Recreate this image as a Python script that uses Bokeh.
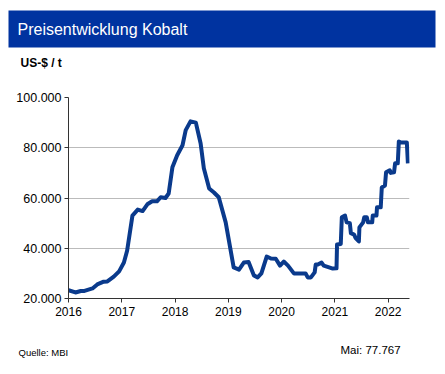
from bokeh.plotting import figure
from bokeh.models import FixedTicker, Range1d
from bokeh.layouts import column, row
from bokeh.core.properties import value
from bokeh.embed import file_html
from bokeh.resources import INLINE

years = [2016.0, 2016.13, 2016.23, 2016.3, 2016.45, 2016.54, 2016.66, 2016.73, 2016.85, 2016.95,
         2017.04, 2017.1, 2017.2, 2017.3, 2017.39, 2017.48, 2017.57, 2017.66, 2017.73, 2017.82,
         2017.88, 2017.95, 2018.04, 2018.14, 2018.2, 2018.29, 2018.39, 2018.48, 2018.54, 2018.64,
         2018.73, 2018.82, 2018.95, 2019.1, 2019.2, 2019.29, 2019.38, 2019.48, 2019.55, 2019.62,
         2019.72, 2019.8, 2019.89, 2019.97, 2020.04, 2020.12, 2020.23, 2020.32, 2020.45, 2020.49,
         2020.55, 2020.62, 2020.64, 2020.68, 2020.75, 2020.79, 2020.89, 2020.96, 2021.03, 2021.04,
         2021.11, 2021.13, 2021.19, 2021.22, 2021.28, 2021.3, 2021.36, 2021.39, 2021.45, 2021.46,
         2021.53, 2021.55, 2021.6, 2021.62, 2021.7, 2021.71, 2021.78, 2021.79, 2021.86, 2021.88,
         2021.94, 2021.96, 2022.03, 2022.05, 2022.11, 2022.13, 2022.18, 2022.2, 2022.24, 2022.35,
         2022.37]
prices = [23300, 22400, 23000, 23000, 24000, 25600, 26700, 26800, 28700, 30800,
          34300, 39000, 53000, 55400, 54800, 57500, 58700, 58700, 60300, 60000,
          61800, 72200, 77000, 81000, 87000, 90500, 90000, 81700, 71800, 63800,
          62200, 60300, 50300, 32400, 31500, 34300, 34500, 29200, 28400, 30000,
          36700, 35900, 35800, 33100, 34700, 33100, 30000, 30000, 30000, 28400,
          28400, 30400, 33500, 33500, 34300, 33100, 32400, 31900, 32000, 41500,
          41700, 52300, 53000, 50300, 50000, 46000, 45400, 44000, 42700, 48300,
          50300, 52300, 52300, 50300, 50300, 53000, 53000, 56300, 56300, 64200,
          65000, 70200, 71000, 70000, 70200, 73800, 73800, 82500, 82100, 82100,
          73800]
x_ticks = [2016, 2017, 2018, 2019, 2020, 2021, 2022]
y_ticks = [20000, 40000, 60000, 80000, 100000]
y_labels = ["20.000", "40.000", "60.000", "80.000", "100.000"]
title_text = "Preisentwicklung Kobalt"
unit_text = "US-$ / t"
source_text = "Quelle: MBI"
last_text = "Mai: 77.767"

W = 445
H1, H2, H3 = 80, 246, 48
FONT = "Liberation Sans"


def blank(h):
    f = figure(width=W, height=h, output_backend="svg", toolbar_location=None,
               x_range=Range1d(0, W), y_range=Range1d(h, 0),
               x_axis_type=None, y_axis_type=None, min_border=0,
               min_border_left=0, min_border_right=0, min_border_top=0, min_border_bottom=0)
    f.outline_line_color = None
    f.grid.visible = False
    f.background_fill_color = "white"
    f.border_fill_color = "white"
    return f


# header
hdr = blank(H1)
hdr.quad(left=[8], right=[435], top=[10], bottom=[47], fill_color="#0033a0", line_color=None)
hdr.text(x=[17], y=[29], text=[title_text], text_font=value(FONT), text_font_size="16px",
         text_color="white", text_baseline="middle", text_align="left")
hdr.text(x=[20], y=[62], text=[unit_text], text_font=value(FONT), text_font_size="12px",
         text_font_style="bold", text_color="black", text_baseline="middle", text_align="left")

# chart
p = figure(width=W, height=H2, output_backend="svg", toolbar_location=None,
           x_range=Range1d(2016, 2022.4), y_range=Range1d(20000, 100000),
           min_border_left=68, min_border_right=36, min_border_top=17, min_border_bottom=28)
p.outline_line_color = None
p.background_fill_color = "white"
p.border_fill_color = "white"

p.line(years, prices, line_color="#0a3a8c", line_width=4, line_join="round")

p.xaxis.ticker = FixedTicker(ticks=x_ticks)
p.yaxis.ticker = FixedTicker(ticks=y_ticks)
p.yaxis.major_label_overrides = {t: l for t, l in zip(y_ticks, y_labels)}
for ax in (p.xaxis, p.yaxis):
    ax.axis_line_color = "#333333"
    ax.major_tick_line_color = "#333333"
    ax.major_tick_out = 4
    ax.major_tick_in = 0
    ax.minor_tick_line_color = None
    ax.major_label_text_font = FONT
    ax.major_label_text_color = "black"
p.xaxis.major_label_text_font_size = "12px"
p.yaxis.major_label_text_font_size = "12.5px"
p.xaxis.major_label_standoff = 4
p.yaxis.major_label_standoff = 3
p.xgrid.grid_line_color = None
p.ygrid.grid_line_color = "#bbbbbb"
p.ygrid.grid_line_width = 1

# footer
ftr = blank(H3)
ftr.text(x=[18], y=[26], text=[source_text], text_font=value(FONT), text_font_size="9.5px",
         text_color="black", text_baseline="middle", text_align="left")
ftr.text(x=[340], y=[23], text=[last_text], text_font=value(FONT), text_font_size="11.5px",
         text_color="black", text_baseline="middle", text_align="left")

layout = column(row(hdr), p, row(ftr), spacing=0)
open("out.html", "w").write(file_html(layout, INLINE))
